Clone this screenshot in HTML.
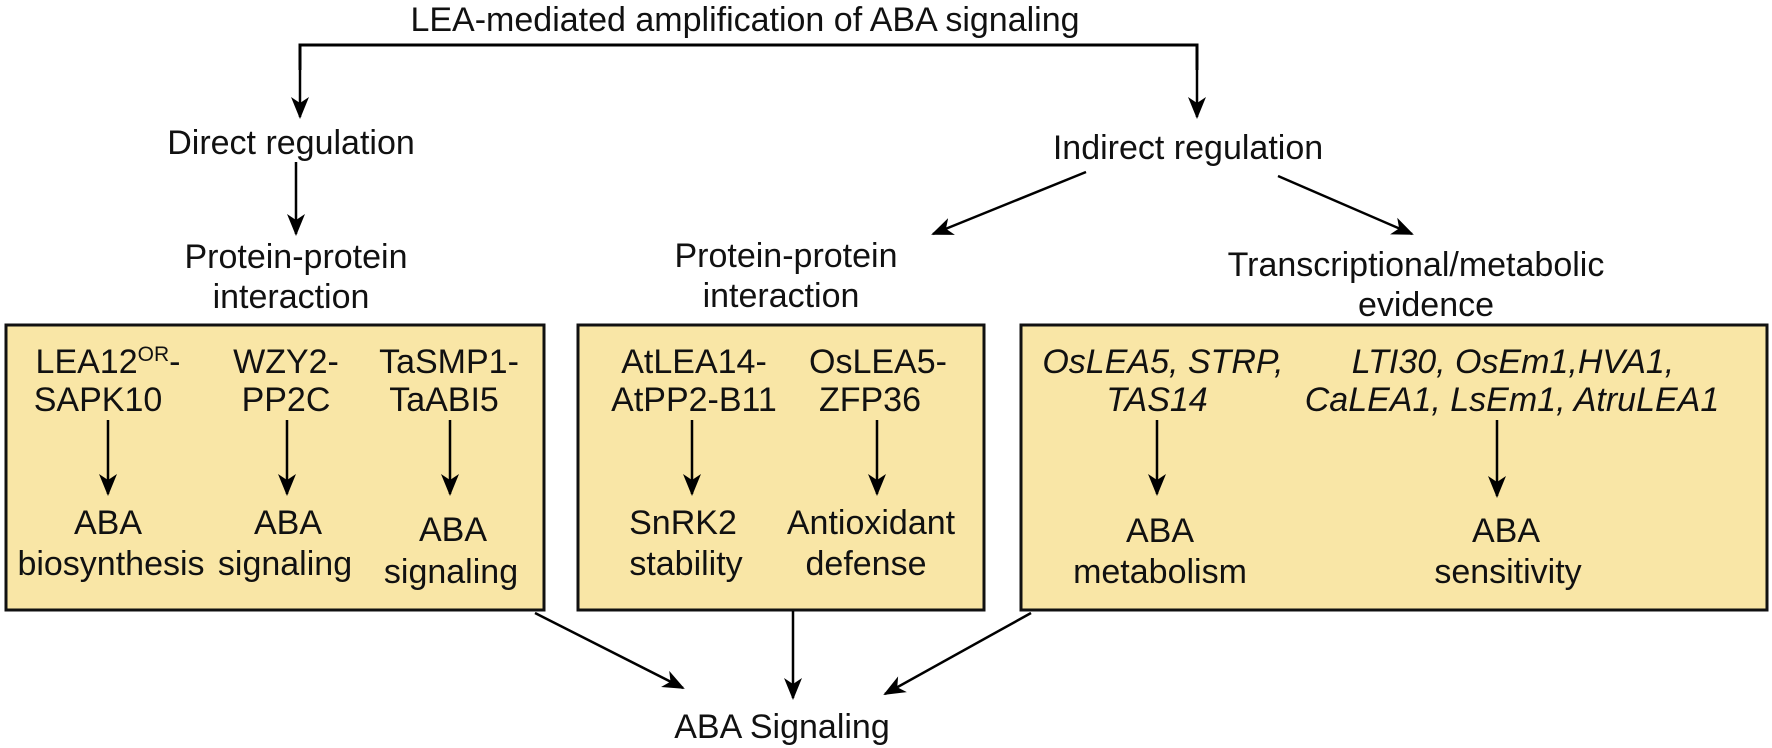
<!DOCTYPE html>
<html><head><meta charset="utf-8"><style>
html,body{margin:0;padding:0;background:#fff;}
svg{display:block;}
text{font-family:"Liberation Sans",Arial,sans-serif;font-size:34px;fill:#111;text-anchor:middle;}
.i{font-style:italic;}
</style></head><body>
<svg width="1772" height="748" viewBox="0 0 1772 748" xmlns="http://www.w3.org/2000/svg">
<defs>
<marker id="h" viewBox="0 0 22 22" refX="20" refY="11" markerWidth="22" markerHeight="22" orient="auto" markerUnits="userSpaceOnUse">
<path d="M0,2 L22,11 L0,20 L6,11 Z" fill="#000"/>
</marker>
</defs>
<text x="745" y="31">LEA-mediated amplification of ABA signaling</text>
<polyline points="300,70 300,45 1197,45 1197,70" fill="none" stroke="#000" stroke-width="3" />
<line x1="300" y1="60" x2="300" y2="117" stroke="#000" stroke-width="2.5" marker-end="url(#h)"/>
<line x1="1197" y1="60" x2="1197" y2="117" stroke="#000" stroke-width="2.5" marker-end="url(#h)"/>

<text x="291" y="154">Direct regulation</text>
<line x1="296" y1="162" x2="296" y2="234" stroke="#000" stroke-width="2.5" marker-end="url(#h)"/>
<text x="296" y="268">Protein-protein</text>
<text x="291" y="308">interaction</text>

<text x="1188" y="159">Indirect regulation</text>
<line x1="1086" y1="172" x2="933" y2="234" stroke="#000" stroke-width="2.5" marker-end="url(#h)"/>
<line x1="1278" y1="176" x2="1412" y2="234" stroke="#000" stroke-width="2.5" marker-end="url(#h)"/>
<text x="786" y="267">Protein-protein</text>
<text x="781" y="307">interaction</text>
<text x="1416" y="276">Transcriptional/metabolic</text>
<text x="1426" y="316">evidence</text>

<rect x="6" y="325" width="538" height="285" fill="#f9e6a6" stroke="#111" stroke-width="3"/>
<rect x="578" y="325" width="406" height="285" fill="#f9e6a6" stroke="#111" stroke-width="3"/>
<rect x="1021" y="325" width="746" height="285" fill="#f9e6a6" stroke="#111" stroke-width="3"/>

<text x="108" y="373">LEA12<tspan font-size="21" dy="-12">OR</tspan><tspan dy="12">-</tspan></text>
<text x="98" y="411">SAPK10</text>
<text x="286" y="373">WZY2-</text>
<text x="286" y="411">PP2C</text>
<text x="449" y="373">TaSMP1-</text>
<text x="444" y="411">TaABI5</text>
<line x1="108" y1="420" x2="108" y2="494" stroke="#000" stroke-width="2.5" marker-end="url(#h)"/>
<line x1="287" y1="420" x2="287" y2="494" stroke="#000" stroke-width="2.5" marker-end="url(#h)"/>
<line x1="450" y1="420" x2="450" y2="494" stroke="#000" stroke-width="2.5" marker-end="url(#h)"/>
<text x="108" y="534">ABA</text>
<text x="111" y="575">biosynthesis</text>
<text x="288" y="534">ABA</text>
<text x="285" y="575">signaling</text>
<text x="453" y="541">ABA</text>
<text x="451" y="583">signaling</text>

<text x="694" y="373">AtLEA14-</text>
<text x="694" y="411">AtPP2-B11</text>
<text x="878" y="373">OsLEA5-</text>
<text x="870" y="411">ZFP36</text>
<line x1="692" y1="420" x2="692" y2="494" stroke="#000" stroke-width="2.5" marker-end="url(#h)"/>
<line x1="877" y1="420" x2="877" y2="494" stroke="#000" stroke-width="2.5" marker-end="url(#h)"/>
<text x="683" y="534">SnRK2</text>
<text x="686" y="575">stability</text>
<text x="871" y="534">Antioxidant</text>
<text x="866" y="575">defense</text>

<text class="i" x="1163" y="373">OsLEA5, STRP,</text>
<text class="i" x="1157" y="411">TAS14</text>
<text class="i" x="1513" y="373">LTI30, OsEm1,HVA1,</text>
<text class="i" x="1512" y="411">CaLEA1, LsEm1, AtruLEA1</text>
<line x1="1157" y1="420" x2="1157" y2="494" stroke="#000" stroke-width="2.5" marker-end="url(#h)"/>
<line x1="1497" y1="420" x2="1497" y2="496" stroke="#000" stroke-width="2.5" marker-end="url(#h)"/>
<text x="1160" y="542">ABA</text>
<text x="1160" y="583">metabolism</text>
<text x="1506" y="542">ABA</text>
<text x="1508" y="583">sensitivity</text>

<line x1="535" y1="613" x2="683" y2="688" stroke="#000" stroke-width="2.5" marker-end="url(#h)"/>
<line x1="793" y1="611" x2="793" y2="698" stroke="#000" stroke-width="2.5" marker-end="url(#h)"/>
<line x1="1031" y1="613" x2="885" y2="694" stroke="#000" stroke-width="2.5" marker-end="url(#h)"/>
<text x="782" y="738">ABA Signaling</text>
</svg>
</body></html>
